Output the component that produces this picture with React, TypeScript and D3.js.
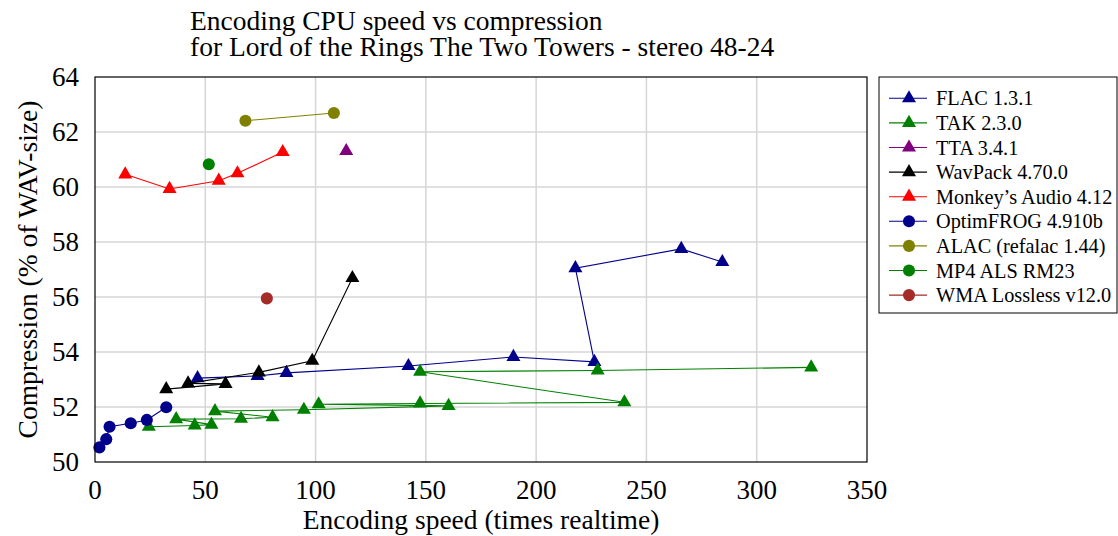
import { useRef, useEffect } from 'react'
import * as d3 from 'd3'

const W = 1118
const H = 536
const PLOT = { left: 95, top: 77, right: 867, bottom: 462 }
const SERIF = 'Liberation Serif'

// series values (x: encoding speed, y: compression %)
const flacX = [46.5, 73.7, 86.8, 142.1, 189.7, 226.4, 217.8, 265.8, 284.4]
const flacY = [53.05, 53.13, 53.24, 53.49, 53.82, 53.64, 57.05, 57.75, 57.27]
const takX = [324.7, 227.9, 147.4, 240.0, 147.4, 101.4, 160.3, 94.7, 54.4, 80.5, 66.2, 36.8, 52.8, 45.2, 24.4]
const takY = [53.44, 53.33, 53.28, 52.17, 52.13, 52.1, 52.04, 51.9, 51.85, 51.63, 51.57, 51.56, 51.36, 51.33, 51.28]
const ttaX = [113.9]
const ttaY = [61.31]
const wavpackX = [116.7, 98.5, 74.3, 42.2, 59.2, 32.3]
const wavpackY = [56.69, 53.68, 53.26, 52.86, 52.84, 52.65]
const monkeyX = [13.7, 33.8, 56.1, 64.6, 85.1]
const monkeyY = [60.46, 59.93, 60.23, 60.5, 61.27]
const ofrX = [2.0, 5.1, 6.6, 16.2, 23.5, 32.3]
const ofrY = [50.53, 50.83, 51.28, 51.41, 51.53, 51.99]
const alacX = [68.2, 108.3]
const alacY = [62.41, 62.69]
const alsX = [51.6]
const alsY = [60.83]
const wmaX = [77.9]
const wmaY = [55.95]

const xTicks = [0, 50, 100, 150, 200, 250, 300, 350]
const yTicks = [50, 52, 54, 56, 58, 60, 62, 64]

const TITLE = ['Encoding CPU speed vs compression', 'for Lord of the Rings The Two Towers - stereo 48-24']
const X_LABEL = 'Encoding speed (times realtime)'
const Y_LABEL = 'Compression (% of WAV-size)'

interface Series {
  name: string
  xs: number[]
  ys: number[]
  color: string
  mark: 'triangle' | 'circle'
}

const SERIES: Series[] = [
  { name: 'FLAC 1.3.1', xs: flacX, ys: flacY, color: '#00008b', mark: 'triangle' },
  { name: 'TAK 2.3.0', xs: takX, ys: takY, color: '#008000', mark: 'triangle' },
  { name: 'TTA 3.4.1', xs: ttaX, ys: ttaY, color: '#800080', mark: 'triangle' },
  { name: 'WavPack 4.70.0', xs: wavpackX, ys: wavpackY, color: '#000000', mark: 'triangle' },
  { name: 'Monkey\u2019s Audio 4.12', xs: monkeyX, ys: monkeyY, color: '#ff0000', mark: 'triangle' },
  { name: 'OptimFROG 4.910b', xs: ofrX, ys: ofrY, color: '#00008b', mark: 'circle' },
  { name: 'ALAC (refalac 1.44)', xs: alacX, ys: alacY, color: '#808000', mark: 'circle' },
  { name: 'MP4 ALS RM23', xs: alsX, ys: alsY, color: '#008000', mark: 'circle' },
  { name: 'WMA Lossless v12.0', xs: wmaX, ys: wmaY, color: '#a52a2a', mark: 'circle' },
]

const triangle = d3.symbol().type(d3.symbolTriangle).size(85)
const circle = d3.symbol().type(d3.symbolCircle).size(115)

function txt(s: d3.Selection<SVGTextElement, any, any, any>, size: number) {
  return s.attr('font-family', SERIF).attr('font-size', size).attr('fill', '#000')
}

export default function App() {
  const svgRef = useRef<SVGSVGElement>(null)

  useEffect(() => {
    document.body.style.margin = '0'
    const svg = svgRef.current
    if (!svg) return
    const sel = d3.select(svg)
    sel.selectAll('*').remove()

    const x = d3.scaleLinear().domain([0, 350]).range([PLOT.left, PLOT.right])
    const y = d3.scaleLinear().domain([50, 64]).range([PLOT.bottom, PLOT.top])

    sel.append('rect').attr('width', W).attr('height', H).attr('fill', '#fff')

    // grid
    const grid = sel.append('g')
    grid.selectAll('line.gx').data(xTicks.slice(1, -1)).enter().append('line')
      .attr('x1', (d) => x(d)).attr('x2', (d) => x(d))
      .attr('y1', PLOT.top).attr('y2', PLOT.bottom)
      .attr('stroke', '#d6d6d6').attr('stroke-width', 1.5)
    grid.selectAll('line.gy').data(yTicks.slice(1, -1)).enter().append('line')
      .attr('y1', (d) => y(d)).attr('y2', (d) => y(d))
      .attr('x1', PLOT.left).attr('x2', PLOT.right)
      .attr('stroke', '#d6d6d6').attr('stroke-width', 1.5)

    // series
    const line = d3.line<[number, number]>().x((d) => x(d[0])).y((d) => y(d[1]))
    SERIES.forEach((s) => {
      const pts: [number, number][] = s.xs.map((v, i) => [v, s.ys[i]])
      const g = sel.append('g')
      if (pts.length > 1) {
        g.append('path').attr('d', line(pts)).attr('fill', 'none')
          .attr('stroke', s.color).attr('stroke-width', 1.1)
      }
      g.selectAll('path.m').data(pts).enter().append('path')
        .attr('d', s.mark === 'triangle' ? triangle() : circle())
        .attr('transform', (d) => `translate(${x(d[0])},${y(d[1])})`)
        .attr('fill', s.color)
    })

    // frame
    sel.append('rect')
      .attr('x', PLOT.left).attr('y', PLOT.top)
      .attr('width', PLOT.right - PLOT.left).attr('height', PLOT.bottom - PLOT.top)
      .attr('fill', 'none').attr('stroke', '#000').attr('stroke-width', 1.2)

    // tick labels
    txt(sel.append('g').selectAll<SVGTextElement, number>('text').data(xTicks).enter().append('text'), 27)
      .attr('x', (d) => x(d)).attr('y', PLOT.bottom + 37)
      .attr('text-anchor', 'middle')
      .text((d) => d)
    txt(sel.append('g').selectAll<SVGTextElement, number>('text').data(yTicks).enter().append('text'), 27)
      .attr('x', PLOT.left - 16).attr('y', (d) => y(d) + 9)
      .attr('text-anchor', 'end')
      .text((d) => d)

    // axis labels
    txt(sel.append('text'), 27.5)
      .attr('x', (PLOT.left + PLOT.right) / 2).attr('y', 529)
      .attr('text-anchor', 'middle')
      .text(X_LABEL)
    txt(sel.append('text'), 27.5)
      .attr('transform', `translate(37,${(PLOT.top + PLOT.bottom) / 2}) rotate(-90)`)
      .attr('text-anchor', 'middle')
      .text(Y_LABEL)

    // title, two left-aligned lines
    const title = sel.append('g')
    TITLE.forEach((t, i) => {
      txt(title.append('text'), 27.5)
        .attr('x', 190).attr('y', 30 + i * 26)
        .text(t)
    })

    // legend
    const lg = sel.append('g').attr('transform', 'translate(879,77)')
    lg.append('rect').attr('width', 238).attr('height', 236)
      .attr('fill', '#fff').attr('stroke', '#000').attr('stroke-width', 1)
    SERIES.forEach((s, i) => {
      const yy = 21.3 + i * 24.6
      lg.append('line').attr('x1', 10).attr('x2', 48).attr('y1', yy).attr('y2', yy)
        .attr('stroke', s.color).attr('stroke-width', 1.1)
      lg.append('path')
        .attr('d', s.mark === 'triangle' ? triangle() : circle())
        .attr('transform', `translate(30,${yy})`).attr('fill', s.color)
      txt(lg.append('text'), 20.3).attr('x', 57).attr('y', yy + 7)
        .text(s.name)
    })
  }, [])

  return (
    <div style={{ position: 'absolute', left: 0, top: 0 }}>
      <svg ref={svgRef} width={W} height={H} style={{ display: 'block' }} />
    </div>
  )
}
